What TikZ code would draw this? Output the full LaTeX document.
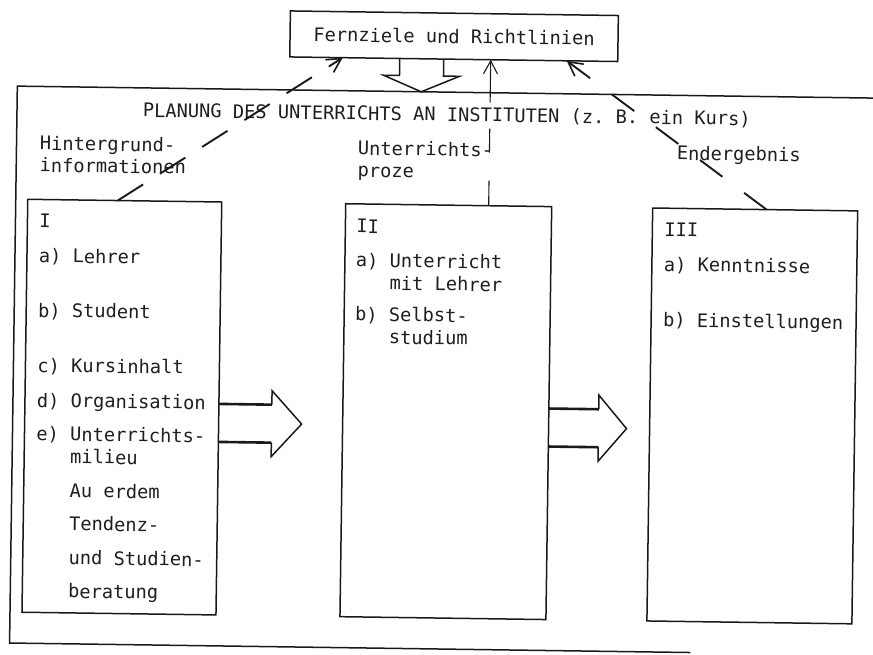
\documentclass[tikz,border=0pt]{standalone}
\usepackage{fontspec}
\setmonofont{DejaVu Sans Mono}
\usetikzlibrary{arrows.meta,calc}

\begin{document}
\begin{tikzpicture}[x=1pt,y=-1pt,
  every node/.style={inner sep=0pt, outer sep=0pt,
    font=\ttfamily\fontsize{18.7}{22}\selectfont, text=black!88},
  txt/.style={anchor=base west},
  panel/.style={draw=black!90, line width=1.5pt, anchor=north west,
    minimum height=413pt},
  frameline/.style={draw=black!90, line width=1.5pt},
  shaft/.style={draw=black!90, line width=2.6pt},
  head/.style={draw=black!90, line width=1.5pt, line join=miter},
  link/.style={draw=black!90, line width=1.9pt},
  thinline/.style={draw=black!90, line width=1.1pt},
  barb/.style={-{Straight Barb[length=14pt,width=15pt,line width=1.6pt]}},
  upbarb/.style={-{Straight Barb[length=13pt,width=14pt,line width=1.1pt]}},
]
\useasboundingbox (0,0) rectangle (873,655);

\begin{scope}[rotate around={-0.8:(436,327)}, transform shape]

% goal box at the top
\node[draw=black!90, line width=1.5pt, anchor=north west,
      minimum width=328pt, minimum height=46pt] (fz) at (286,13)
      {Fernziele und Richtlinien};

% open frame of the planning area
\coordinate (ftr) at (885,92);
\coordinate (ftl) at (14,92);
\coordinate (fbl) at (14,649);
\coordinate (fbr) at (695,649);
\draw[frameline] (ftr) -- (ftl) -- (fbl) -- (fbr);

% the three stages
\node[panel, minimum width=194pt] (b1) at (26,205) {};
\node[panel, minimum width=206pt] (b2) at (344,205) {};
\node[panel, minimum width=205pt] (b3) at (651,205) {};

% titles
\node[txt] (plan) at (140,121) {PLANUNG DES UNTERRICHTS AN INSTITUTEN (z. B. ein Kurs)};
\node[txt] (hg1) at (37.5,155.5) {Hintergrund-};
\node[txt] (hg2) at (37.5,177.5) {informationen};
\node[txt] (up1) at (355.5,156) {Unterrichts-};
\node[txt] (up2) at (355.5,178) {proze};
\node[txt] (eg)  at (674.5,156.5) {Endergebnis};

% stage I
\node[txt] (i0) at (38,233.5) {I};
\node[txt] (ia) at (38,268) {a) Lehrer};
\node[txt] (ib) at (38,322.6) {b) Student};
\node[txt] (ic) at (38,377.6) {c) Kursinhalt};
\node[txt] (id) at (38,412.6) {d) Organisation};
\node[txt] (ie) at (38,446) {e) Unterrichts-};
\node[txt] (ie2) at (72,468.6) {milieu};
\node[txt] (if1) at (72,502.6) {Au erdem};
\node[txt] (if2) at (72,535.6) {Tendenz-};
\node[txt] (if3) at (72,569.6) {und Studien-};
\node[txt] (if4) at (72,603) {beratung};

% stage II
\node[txt] (ii0) at (355,234) {II};
\node[txt] (iia) at (355,268) {a) Unterricht};
\node[txt] (iia2) at (389,290.6) {mit Lehrer};
\node[txt] (iib) at (355,322) {b) Selbst-};
\node[txt] (iib2) at (389,344.6) {studium};

% stage III
\node[txt] (iii0) at (663,233.5) {III};
\node[txt] (iiia) at (663,268) {a) Kenntnisse};
\node[txt] (iiib) at (663,323.5) {b) Einstellungen};

% broad arrow from the goals down into the frame
\draw[head] ($(fz.south west)+(110,0)$) -- ++(0,17) -- ++(-16,0)
  -- ++(38,16) -- ++(38,-16) -- ++(-16,0) -- ($(fz.south west)+(154,0)$);

% broad arrow I -> II
\coordinate (a1t) at ($(b1.north east)+(0,202)$);
\coordinate (a1b) at ($(b1.north east)+(0,240)$);
\draw[shaft] (a1t) -- ++(53,0);
\draw[shaft] (a1b) -- ++(53,0);
\draw[head] ($(a1t)+(53,0)$) -- ++(0,-14) -- ++(30,33) -- ++(-30,33) -- ++(0,-14);

% broad arrow II -> III
\coordinate (a2t) at ($(b2.north east)+(0,202)$);
\coordinate (a2b) at ($(b2.north east)+(0,240)$);
\draw[shaft] (a2t) -- ++(50,0);
\draw[shaft] (a2b) -- ++(50,0);
\draw[head] ($(a2t)+(50,0)$) -- ++(0,-14) -- ++(28,33) -- ++(-28,33) -- ++(0,-14);

% feedback lines to the goals
\draw[link, dash pattern=on 30pt off 20pt, barb]
  ($(b1.north west)+(90,0)$) -- ($(fz.south west)+(53,0)$);
\draw[link, dash pattern=on 28pt off 27pt, barb]
  ($(b3.north west)+(114,0)$) -- ($(fz.south west)+(277,0)$);

% process line from stage II up to the goals, broken by the text rows
\draw[thinline] ($(b2.north west)+(143,0)$) -- ++(0,-25);
\draw[thinline] ($(fz.south west)+(201,69)$) -- ++(0,24);
\draw[thinline, upbarb] ($(fz.south west)+(201,43)$) -- ($(fz.south west)+(201,0)$);

\end{scope}
\end{tikzpicture}
\end{document}
